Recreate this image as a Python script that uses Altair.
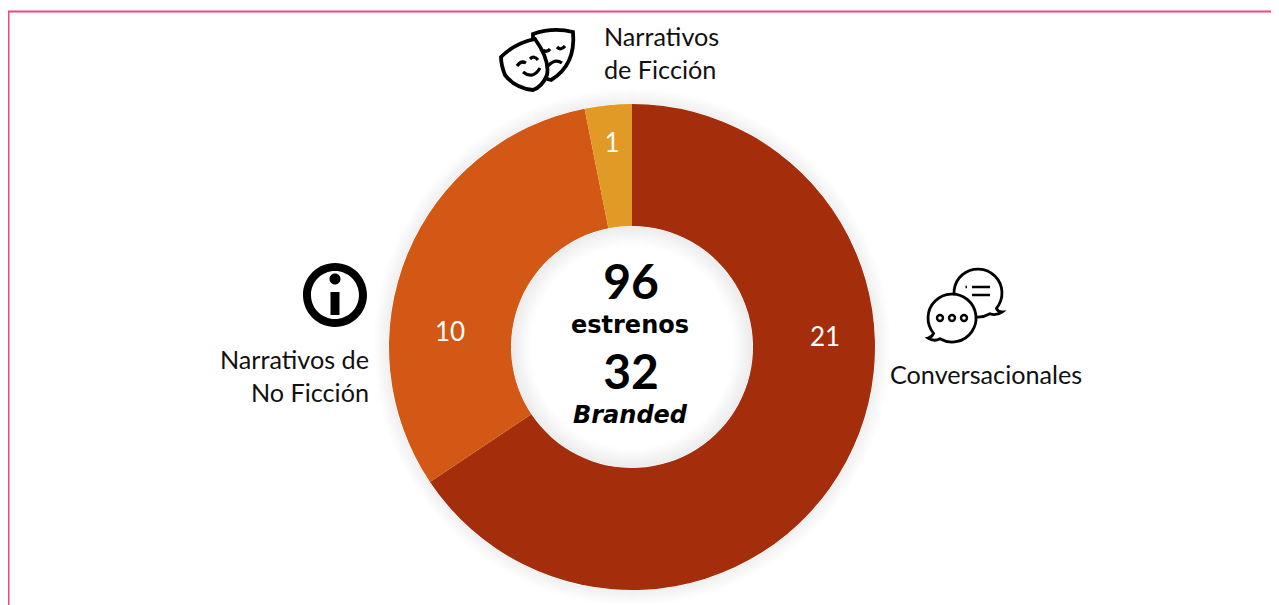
import altair as alt
import pandas as pd

categories = ["Conversacionales", "Narrativos de No Ficción", "Narrativos de Ficción"]
values = [21, 10, 1]
colors = ["#A42E0C", "#D35815", "#E09A25"]
FONT = "Lato"
WIDE = "DejaVu Sans"
PINK = "#E8487C"
CX, CY = 624, 339  # donut centre inside the plot area
W, H = 1263, 597

df = pd.DataFrame({"cat": categories, "v": values, "o": [0, 1, 2]})
one = pd.DataFrame({"a": [1]})


def at(x, y):
    return dict(x=alt.value(x), y=alt.value(y))


def label(txt, px, py, size=25.2, align="left", weight="normal", style="normal", color="#111111", font=FONT):
    return alt.Chart(one).mark_text(
        text=txt, font=font, fontSize=size, align=align, baseline="middle",
        fontWeight=weight, fontStyle=style, color=color,
    ).encode(**at(px - 8, py - 8))


def ring(r1, r0, opacity):
    return alt.Chart(one).mark_arc(
        radius=r1, radius2=r0, theta=0, theta2=6.2832, color="#000000", opacity=opacity
    ).encode(**at(CX, CY))


def icon(path, filled=False, sw=3.2, fill="#FFFFFF"):
    kw = dict(color="#000000", fill="#000000", stroke=None) if filled else dict(
        fill=fill, fillOpacity=1, stroke="#000000", strokeWidth=sw)
    return alt.Chart(one).mark_point(
        shape=path, size=4, opacity=1, filled=True, **kw
    ).encode(**at(-8, -8))


layers = []
# soft shadow round the ring and in the hole
for k in range(1, 17):
    layers.append(ring(243 + k, 243, 0.004))
for k in range(1, 21):
    layers.append(ring(121, 121 - k, 0.005))

donut = alt.Chart(df).mark_arc(radius=243, radius2=121).encode(
    theta=alt.Theta("v:Q", stack=True, scale=alt.Scale(domain=[0, 32], range=[0, 6.28319])),
    color=alt.Color("cat:N", scale=alt.Scale(domain=categories, range=colors), legend=None),
    order=alt.Order("o:Q"),
    **at(CX, CY),
)
layers.append(donut)

# frame
layers.append(alt.Chart(one).mark_rule(color=PINK, strokeWidth=2).encode(
    x=alt.value(0), x2=alt.value(W), y=alt.value(3.5)))
layers.append(alt.Chart(one).mark_rule(color=PINK, strokeWidth=2).encode(
    x=alt.value(0.5), y=alt.value(3.5), y2=alt.value(H)))

# slice values
layers += [
    label("21", 825, 338, 26, "center", color="#FFFFFF"),
    label("10", 450, 333, 26, "center", color="#FFFFFF"),
    label("1", 612, 144, 26, "center", color="#FFFFFF"),
]
# centre
layers += [
    label("96", 631, 285, 48, "center", "bold", color="#000000"),
    label("estrenos", 630, 326, 24, "center", "bold", color="#000000", font=WIDE),
    label("32", 631, 375, 48, "center", "bold", color="#000000"),
    label("Branded", 630, 416, 24, "center", "bold", "italic", color="#000000", font=WIDE),
]
# captions
layers += [
    label("Narrativos", 604, 38),
    label("de Ficción", 604, 71),
    label("Narrativos de", 369, 361, align="right"),
    label("No Ficción", 369, 394, align="right"),
    label("Conversacionales", 890, 376),
]

# icons (paths in page pixels)
back_mask = "M533 34 Q553 27 573 32 Q576 65 551 80 Q540 78 533 70 Z"
back_face = "M543 50 Q547 53 550 49 M557 47 Q561 51 565 46 M548 66 Q555 58 562 63"
front_mask = "M501 57 Q515 43 535 39 Q550 60 547 75 Q542 87 533 90 Q515 88 505 75 Q501 65 501 57 Z"
front_face = "M517 66 Q521 60 526 63 M530 59 Q534 55 538 60 M523 72 Q533 80 540 68"
layers += [icon(back_mask, sw=3.8), icon(back_face, fill="none"), icon(front_mask, sw=3.8), icon(front_face, fill="none")]

ring_i = "M335 263 A32 32 0 1 1 335 327 A32 32 0 1 1 335 263 Z M335 271 A24 24 0 1 0 335 319 A24 24 0 1 0 335 271 Z"
dot_i = "M335 273.5 A5.5 5.5 0 1 1 335 284.5 A5.5 5.5 0 1 1 335 273.5 Z M330.5 292 L339.5 292 L339.5 315 L330.5 315 Z"
layers += [icon(ring_i, filled=True), icon(dot_i, filled=True)]

bubble_back = "M996.4 308.4 Q998 312 1002 312 Q996 316 990 313.8 A24 24 0 1 1 996.4 308.4 Z"
bubble_lines = "M972 287 L990 287 M972 295 L990 295 M965.5 287 L967 287"
bubble_front = "M940 338.8 Q934 342 928 338 Q932 337 933.6 333.4 A24 24 0 1 1 940 338.8 Z"
bubble_dots = ("M940 315 A3 3 0 1 1 940 321 A3 3 0 1 1 940 315 Z "
               "M952 315 A3 3 0 1 1 952 321 A3 3 0 1 1 952 315 Z "
               "M964 315 A3 3 0 1 1 964 321 A3 3 0 1 1 964 315 Z")
layers += [icon(bubble_back, sw=2.8), icon(bubble_lines, fill="none", sw=2.4),
           icon(bubble_front, sw=2.8), icon(bubble_dots, fill="none", sw=2.4)]

chart = alt.layer(*layers).properties(
    width=W, height=H, padding=0, background="#FFFFFF",
    autosize=alt.AutoSizeParams(type="none"),
).configure_view(stroke=None)

chart.save("out.html", embed_options={"renderer": "svg", "actions": False})
